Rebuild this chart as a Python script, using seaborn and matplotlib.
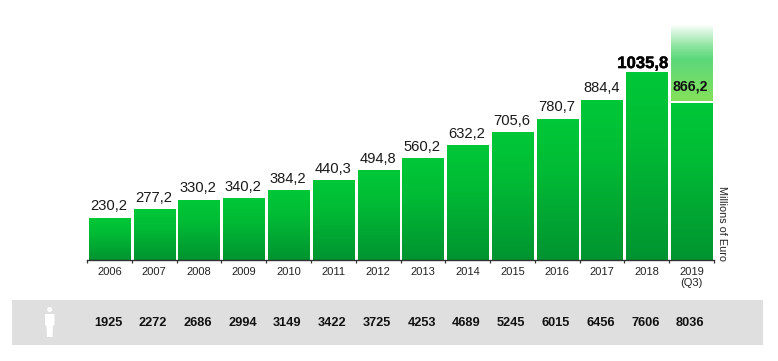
import numpy as np
import pandas as pd
import seaborn as sns
import matplotlib.pyplot as plt
import matplotlib.patheffects as pe
from matplotlib.colors import LinearSegmentedColormap
from matplotlib.patches import Rectangle, Ellipse, Polygon

years = ["2006", "2007", "2008", "2009", "2010", "2011", "2012", "2013",
         "2014", "2015", "2016", "2017", "2018", "2019\n(Q3)"]
revenue = [230.2, 277.2, 330.2, 340.2, 384.2, 440.3, 494.8, 560.2,
           632.2, 705.6, 780.7, 884.4, 1035.8, 866.2]
labels = ["230,2", "277,2", "330,2", "340,2", "384,2", "440,3", "494,8", "560,2",
          "632,2", "705,6", "780,7", "884,4", "1035,8", "866,2"]
people = [1925, 2272, 2686, 2994, 3149, 3422, 3725, 4253,
          4689, 5245, 6015, 6456, 7606, 8036]
# faded bar on top of 2019, top
ghost_year = ["2019\n(Q3)"]
ghost_from = [877]
ghost_to = [1298]

sns.set_style("white")
plt.rcParams["font.family"] = ["Liberation Sans", "DejaVu Sans"]

W, H = 778, 361
fig = plt.figure(figsize=(W / 100, H / 100), dpi=100)
ax = fig.add_axes([87 / W, 1 - 259.5 / H, 627 / W, 259.5 / H])

df = pd.DataFrame({"year": years, "revenue": revenue})
ghost = pd.DataFrame({"year": ghost_year, "h": np.array(ghost_to) - np.array(ghost_from)})

sns.barplot(data=df, x="year", y="revenue", order=years, color="#00b835",
            width=0.92, saturation=1, ax=ax)
sns.barplot(data=ghost, x="year", y="h", order=years, color="#6fdc70",
            width=0.92, saturation=1, bottom=ghost_from[0], ax=ax)

ax.set_xlim(-0.5, 13.5)
ax.set_ylim(0, 259.5 / 0.1806)

# gradients painted over the bars
green = LinearSegmentedColormap.from_list("g", [(0, "#00c838"), (0.35, "#00bc35"), (1, "#009430")])
fade = LinearSegmentedColormap.from_list(
    "f", [(0, "#ffffff"), (0.28, "#8ee4a0"), (0.45, "#5cd87c"), (1, "#84e05a")])
ramp = np.linspace(0, 1, 128).reshape(-1, 1)
n = len(years)
for i, p in enumerate(ax.patches):
    cmap = green if i < n else fade
    if p.get_height() == 0 or np.isnan(p.get_height()):
        continue
    ax.imshow(ramp, cmap=cmap, aspect="auto", interpolation="bilinear", zorder=2,
              extent=[p.get_x(), p.get_x() + p.get_width(),
                      p.get_y(), p.get_y() + p.get_height()])
ax.set_xlim(-0.5, 13.5)
ax.set_ylim(0, 259.5 / 0.1806)

# value labels
for i, (v, t) in enumerate(zip(revenue, labels)):
    if i == 12:
        txt = ax.annotate(t, (i, v), xytext=(-3, 1), textcoords="offset points", ha="center",
                          va="bottom", fontsize=12, fontweight="bold", color="black", zorder=3)
        txt.set_path_effects([pe.withStroke(linewidth=0.3, foreground="black")])
    elif i == 13:
        ax.annotate(t, (i, v), xytext=(-1, 7), textcoords="offset points", ha="center",
                    va="bottom", fontsize=10.2, fontweight="bold", color="#111111", zorder=3)
    else:
        ax.annotate(t, (i, v), xytext=(-0.4, 3.2), textcoords="offset points", ha="center",
                    va="bottom", fontsize=10.6, color="#1a1a1a", zorder=3)

sns.despine(ax=ax, left=True, top=True, right=True)
ax.spines["bottom"].set_color("#333333")
ax.spines["bottom"].set_linewidth(1)
ax.set_xlabel("")
ax.set_ylabel("")
ax.set_yticks([])
ax.set_xticks(range(n))
ax.set_xticklabels(years, fontsize=8, color="#222222", linespacing=1.1)
ax.tick_params(axis="x", which="major", length=0, pad=5.5)
ax.set_xticks(np.arange(n + 1) - 0.5, minor=True)
ax.tick_params(axis="x", which="minor", length=2.5, width=0.9, color="#333333", direction="out", bottom=True)

fig.text(722 / W, 1 - 223.5 / H, "Millions of Euro", rotation=270, ha="center", va="center",
         fontsize=7.8, color="#222222")

# grey band with head count
fig.add_artist(Rectangle((12 / W, 1 - 345 / H), 751 / W, 45 / H, transform=fig.transFigure,
                         facecolor="#dfdfdf", edgecolor="none", zorder=-1))
fig.add_artist(Ellipse((49.7 / W, 1 - 309.5 / H), 5 / W, 5 / H, transform=fig.transFigure,
                       facecolor="white", edgecolor="none"))
body = [(45, 314), (54.5, 314), (54.5, 325), (53, 326), (52.5, 337), (47, 337), (46.5, 326), (45, 325)]
fig.add_artist(Polygon([(x / W, 1 - y / H) for x, y in body], closed=True,
                       transform=fig.transFigure, facecolor="white", edgecolor="none"))
trans = ax.get_xaxis_transform()
for i, v in enumerate(people):
    ax.text(i - 0.03, (259.5 - 323.5) / 259.5, str(v), transform=trans, ha="center", va="center",
            fontsize=9.2, fontweight="bold", color="#111111", clip_on=False)

fig.savefig("out.png", dpi=100)
